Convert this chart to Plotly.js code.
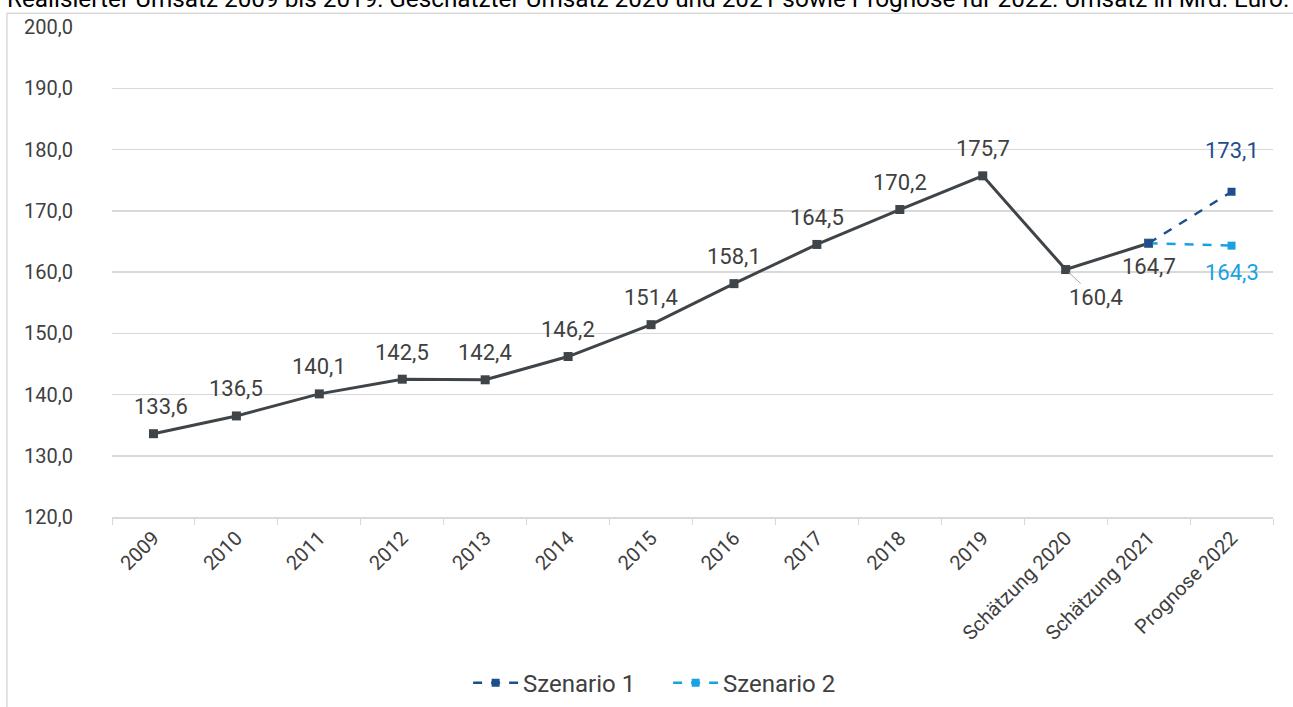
<!DOCTYPE html>
<html>
<head>
<meta charset="utf-8">
<script src="https://cdn.plot.ly/plotly-3.0.1.min.js"></script>
<style>html,body{margin:0;padding:0;background:#fff;}#chart{width:1293px;height:707px;}</style>
</head>
<body>
<div id="chart"></div>
<script>
const categories = ["2009","2010","2011","2012","2013","2014","2015","2016","2017","2018","2019","Schätzung 2020","Schätzung 2021","Prognose 2022"];
const mainValues = [133.6,136.5,140.1,142.5,142.4,146.2,151.4,158.1,164.5,170.2,175.7,160.4,164.7];
const scen1Cats = ["Schätzung 2021","Prognose 2022"];
const scen1Values = [164.7,173.1];
const scen2Cats = ["Schätzung 2021","Prognose 2022"];
const scen2Values = [164.7,164.3];
const titleText = "Realisierter Umsatz 2009 bis 2019: Geschätzter Umsatz 2020 und 2021 sowie Prognose für 2022. Umsatz in Mrd. Euro.";

const FONT = "Roboto, 'Liberation Sans', sans-serif";
const GREY = "#3f4448";
const TXT = "#404040";
const BLUE = "#1f4e8c";
const LBLUE = "#18a3e0";
const fmt = v => v.toFixed(1).replace(".", ",");
const idx = c => categories.indexOf(c);

const traces = [
  {x: categories.slice(0, mainValues.length), y: mainValues, type: "scatter", mode: "lines+markers",
   line: {color: GREY, width: 3}, marker: {symbol: "square", size: 9, color: GREY},
   showlegend: false, hoverinfo: "skip"},
  {x: scen2Cats, y: scen2Values, type: "scatter", mode: "lines+markers", name: "Szenario 2", legendrank: 2,
   line: {color: LBLUE, width: 2.5, dash: "dash"}, marker: {symbol: "square", size: 8, color: LBLUE}},
  {x: scen1Cats, y: scen1Values, type: "scatter", mode: "lines+markers", name: "Szenario 1", legendrank: 1,
   line: {color: BLUE, width: 2.5, dash: "dash"}, marker: {symbol: "square", size: 8, color: BLUE}}
];

const annotations = [];
mainValues.forEach((v, i) => {
  const a = {x: i, y: v, xref: "x", yref: "y", text: fmt(v), showarrow: false,
    font: {family: FONT, size: 22, color: TXT}, xshift: 0, yshift: 27};
  if (i === 0) a.xshift = 8;
  if (i === 11) { // 160,4 with leader line
    a.showarrow = true; a.ax = 30; a.ay = 28; a.arrowhead = 0; a.arrowwidth = 1;
    a.arrowcolor = "#a6a6a6"; a.yshift = 0; a.standoff = 4;
  }
  if (i === 12) { a.yshift = -23; }
  annotations.push(a);
});
annotations.push({x: idx(scen1Cats[1]), y: scen1Values[1], xref: "x", yref: "y", text: fmt(scen1Values[1]),
  showarrow: false, yshift: 41, font: {family: FONT, size: 22, color: BLUE}});
annotations.push({x: idx(scen2Cats[1]), y: scen2Values[1], xref: "x", yref: "y", text: fmt(scen2Values[1]),
  showarrow: false, yshift: -27, font: {family: FONT, size: 22, color: LBLUE}});
annotations.push({xref: "paper", yref: "paper", x: -0.092, xanchor: "left", y: 1.059, yanchor: "middle",
  text: titleText, showarrow: false, font: {family: FONT, size: 24.3, color: "#000"}});

const layout = {
  width: 1293, height: 707,
  margin: {l: 112, r: 20, t: 27, b: 190, autoexpand: false},
  paper_bgcolor: "#fff", plot_bgcolor: "#fff",
  font: {family: FONT, color: TXT},
  separators: ",.",
  xaxis: {type: "category", categoryorder: "array", categoryarray: categories,
    range: [-0.5, categories.length - 0.5], automargin: false,
    showline: true, linecolor: "#d9d9d9", linewidth: 1.5, showgrid: false,
    ticks: "outside", tickson: "boundaries", ticklen: 6, tickcolor: "#d9d9d9",
    tickangle: -45, tickfont: {family: FONT, size: 20, color: TXT}},
  yaxis: {range: [120, 200], dtick: 10, tick0: 120, tickformat: ".1f", automargin: false,
    showgrid: true, gridcolor: "#d9d9d9", gridwidth: 1.5, zeroline: false, showline: false,
    ticks: "", ticklabelstandoff: 38, tickfont: {family: FONT, size: 20, color: TXT}},
  legend: {orientation: "h", x: 0.479, xanchor: "center", y: -0.339, yanchor: "middle",
    font: {family: FONT, size: 24, color: TXT}, itemwidth: 45, entrywidth: 140, entrywidthmode: "pixels"},
  annotations: annotations,
  shapes: [{type: "rect", xref: "paper", yref: "paper", x0: -0.0905, x1: 1.05, y0: -0.5, y1: 1.028,
    line: {color: "#d9d9d9", width: 1.5}, fillcolor: "rgba(0,0,0,0)", layer: "below"}],
  showlegend: true
};

Plotly.newPlot("chart", traces, layout, {displayModeBar: false, staticPlot: true});
</script>
</body>
</html>
